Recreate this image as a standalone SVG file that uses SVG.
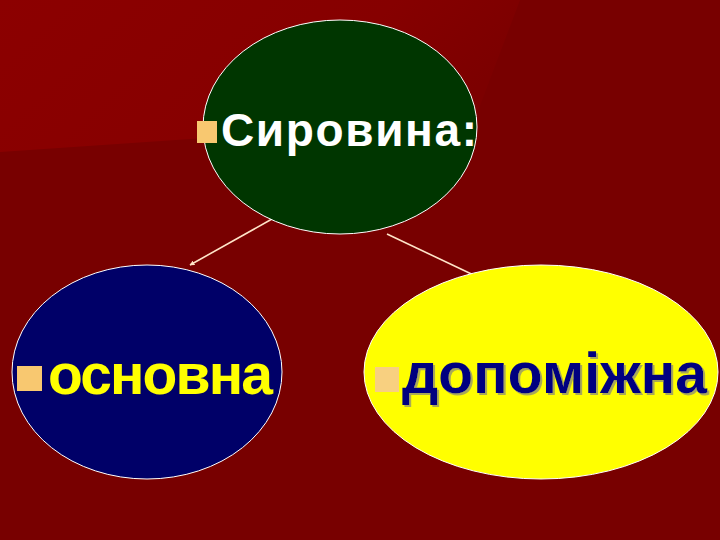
<svg xmlns="http://www.w3.org/2000/svg" width="720" height="540" viewBox="0 0 720 540">
<defs>
<linearGradient id="bgL" x1="0" y1="0" x2="1" y2="0.3">
<stop offset="0" stop-color="#8c0000"/>
<stop offset="0.7" stop-color="#860000"/>
<stop offset="1" stop-color="#7c0000"/>
</linearGradient>
<marker id="ah" viewBox="0 0 10 10" refX="9" refY="5" markerWidth="5" markerHeight="5" orient="auto" markerUnits="userSpaceOnUse">
<path d="M0,0 L10,5 L0,10 z" fill="#ffe4c8"/>
</marker>
<filter id="sh" x="-5%" y="-5%" width="110%" height="120%">
<feDropShadow dx="2" dy="2" stdDeviation="0.6" flood-color="#a0a060" flood-opacity="0.9"/>
</filter>
</defs>
<style>
.node ellipse{stroke:#ffffff;stroke-width:1}
.lbl{font-family:"Liberation Sans",Arial,sans-serif;font-weight:bold}
.conn line{stroke:#ffe4c8;stroke-width:1.6}
</style>
<rect x="0" y="0" width="720" height="540" fill="#780000"/>
<polygon points="0,0 520,0 470,132 205,138 0,152" fill="url(#bgL)"/>
<g id="connectors" class="conn">
<line x1="272" y1="219" x2="190" y2="265" marker-end="url(#ah)"/>
<line x1="387" y1="234" x2="482" y2="279" marker-end="url(#ah)"/>
</g>
<g id="node-syrovyna" class="node">
<ellipse cx="340" cy="127" rx="137" ry="107" fill="#003600"/>
<rect x="197" y="121" width="20" height="22" fill="#f8c870"/>
<text class="lbl" x="221" y="146" font-size="46" fill="#ffffff" textLength="256" lengthAdjust="spacing">Сировина:</text>
</g>
<g id="node-osnovna" class="node">
<ellipse cx="147" cy="372" rx="135" ry="107" fill="#000068"/>
<rect x="17" y="366" width="25" height="25" fill="#f8c870"/>
<text class="lbl" x="48" y="394" font-size="57" fill="#ffff00" textLength="225" lengthAdjust="spacing">основна</text>
</g>
<g id="node-dopomizhna" class="node">
<ellipse cx="541" cy="372" rx="177" ry="107" fill="#ffff00"/>
<rect x="375" y="367" width="24" height="25" fill="#f8d080"/>
<text class="lbl" x="402" y="393" font-size="57" fill="#000080" filter="url(#sh)" textLength="305" lengthAdjust="spacing">допоміжна</text>
</g>
</svg>
